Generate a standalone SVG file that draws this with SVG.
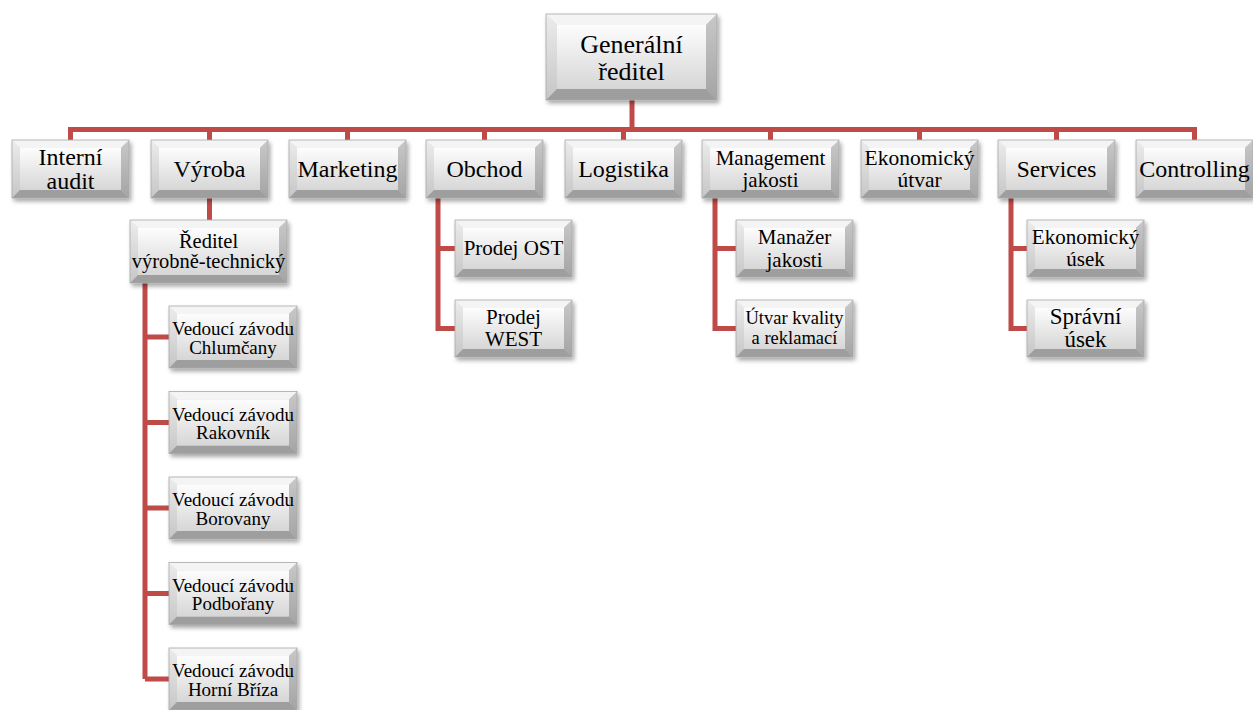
<svg xmlns="http://www.w3.org/2000/svg" xmlns:xlink="http://www.w3.org/1999/xlink" width="1253" height="710" viewBox="0 0 1253 710">
<style>
.bt{fill:#f4f4f4}
.bl{fill:url(#gl)}
.br{fill:url(#gr)}
.bb{fill:#9e9e9e}
.bf{fill:url(#gf)}
.bo{fill:none;stroke:#a8a8a8;stroke-width:0.8}
.box{filter:url(#sh)}
.t{font-family:'Liberation Serif','DejaVu Serif',serif;fill:#000;text-anchor:middle}
.con{fill:none;stroke:#BE4B48;stroke-width:5;stroke-linejoin:miter;stroke-linecap:butt}
</style>
<defs>
<linearGradient id="gf" x1="0" y1="0" x2="0" y2="1">
<stop offset="0" stop-color="#fdfdfd"/><stop offset="1" stop-color="#d6d6d6"/>
</linearGradient>
<linearGradient id="gl" x1="0" y1="0" x2="0" y2="1">
<stop offset="0" stop-color="#ececec"/><stop offset="1" stop-color="#c6c6c6"/>
</linearGradient>
<linearGradient id="gr" x1="0" y1="0" x2="0" y2="1">
<stop offset="0" stop-color="#c8c8c8"/><stop offset="1" stop-color="#a4a4a4"/>
</linearGradient>
<filter id="sh" x="-10%" y="-10%" width="125%" height="135%">
<feDropShadow dx="2" dy="3" stdDeviation="2" flood-color="#000" flood-opacity="0.35"/>
</filter>
<g id="bvA">
<polygon class="bt" points="0,0 171,0 160,11 11,11"/>
<polygon class="bl" points="0,0 11,11 11,75 0,86"/>
<polygon class="br" points="171,0 171,86 160,75 160,11"/>
<polygon class="bb" points="0,86 11,75 160,75 171,86"/>
<rect class="bf" x="11" y="11" width="149" height="64"/>
<rect class="bo" x="0" y="0" width="171" height="86"/>
</g>
<g id="bvB">
<polygon class="bt" points="0,0 117,0 109,8 8,8"/>
<polygon class="bl" points="0,0 8,8 8,50 0,58"/>
<polygon class="br" points="117,0 117,58 109,50 109,8"/>
<polygon class="bb" points="0,58 8,50 109,50 117,58"/>
<rect class="bf" x="8" y="8" width="101" height="42"/>
<rect class="bo" x="0" y="0" width="117" height="58"/>
</g>
<g id="bvC">
<polygon class="bt" points="0,0 137,0 129,8 8,8"/>
<polygon class="bl" points="0,0 8,8 8,50 0,58"/>
<polygon class="br" points="137,0 137,58 129,50 129,8"/>
<polygon class="bb" points="0,58 8,50 129,50 137,58"/>
<rect class="bf" x="8" y="8" width="121" height="42"/>
<rect class="bo" x="0" y="0" width="137" height="58"/>
</g>
<g id="bvD">
<polygon class="bt" points="0,0 157,0 149,8 8,8"/>
<polygon class="bl" points="0,0 8,8 8,55 0,63"/>
<polygon class="br" points="157,0 157,63 149,55 149,8"/>
<polygon class="bb" points="0,63 8,55 149,55 157,63"/>
<rect class="bf" x="8" y="8" width="141" height="47"/>
<rect class="bo" x="0" y="0" width="157" height="63"/>
</g>
<g id="bvE">
<polygon class="bt" points="0,0 128,0 120,8 8,8"/>
<polygon class="bl" points="0,0 8,8 8,54 0,62"/>
<polygon class="br" points="128,0 128,62 120,54 120,8"/>
<polygon class="bb" points="0,62 8,54 120,54 128,62"/>
<rect class="bf" x="8" y="8" width="112" height="46"/>
<rect class="bo" x="0" y="0" width="128" height="62"/>
</g>
<g id="bvF">
<polygon class="bt" points="0,0 117,0 109,8 8,8"/>
<polygon class="bl" points="0,0 8,8 8,49 0,57"/>
<polygon class="br" points="117,0 117,57 109,49 109,8"/>
<polygon class="bb" points="0,57 8,49 109,49 117,57"/>
<rect class="bf" x="8" y="8" width="101" height="41"/>
<rect class="bo" x="0" y="0" width="117" height="57"/>
</g>
</defs>

<g id="connectors" class="con">
<path d="M632,100V129.5"/>
<path d="M70.5,140V129.5H1194.5V140"/>
<path d="M209.5,129.5V140M347.5,129.5V140M484.5,129.5V140M623.5,129.5V140M770.5,129.5V140M919.5,129.5V140M1056.5,129.5V140"/>
<path d="M209.5,198V220"/>
<path d="M145,283V679M145,337H169M145,422.5H169M145,508H169M145,593.5H169M145,679H169"/>
<path d="M438,198V328.5H455M438,248.5H455"/>
<path d="M715,198V328.5H736M715,248.5H736"/>
<path d="M1011,198V328.5H1027M1011,248.5H1027"/>
</g>

<g id="n-generalni">
<use class="box" href="#bvA" x="546" y="14"/>
<text class="t" font-size="26"><tspan x="631.5" y="53">Generální</tspan><tspan x="631.5" y="80">ředitel</tspan></text>
</g>

<g id="n-audit">
<use class="box" href="#bvB" x="12" y="140"/>
<text class="t" font-size="24"><tspan x="70.5" y="165">Interní</tspan><tspan x="70.5" y="188.5">audit</tspan></text>
</g>
<g id="n-vyroba">
<use class="box" href="#bvB" x="151" y="140"/>
<text class="t" font-size="24" x="209.5" y="177">Výroba</text>
</g>
<g id="n-marketing">
<use class="box" href="#bvB" x="289" y="140"/>
<text class="t" font-size="24" x="347.5" y="177">Marketing</text>
</g>
<g id="n-obchod">
<use class="box" href="#bvB" x="426" y="140"/>
<text class="t" font-size="24" x="484.5" y="177">Obchod</text>
</g>
<g id="n-logistika">
<use class="box" href="#bvB" x="565" y="140"/>
<text class="t" font-size="24" x="623.5" y="177">Logistika</text>
</g>
<g id="n-management">
<use class="box" href="#bvC" x="702" y="140"/>
<text class="t" font-size="21"><tspan x="770.5" y="165">Management</tspan><tspan x="770.5" y="187">jakosti</tspan></text>
</g>
<g id="n-ekonomicky">
<use class="box" href="#bvB" x="861" y="140"/>
<text class="t" font-size="21.5"><tspan x="919.5" y="165">Ekonomický</tspan><tspan x="919.5" y="187">útvar</tspan></text>
</g>
<g id="n-services">
<use class="box" href="#bvB" x="998" y="140"/>
<text class="t" font-size="23.5" x="1056.5" y="177">Services</text>
</g>
<g id="n-controlling">
<use class="box" href="#bvB" x="1136" y="140"/>
<text class="t" font-size="24" x="1194.5" y="177">Controlling</text>
</g>

<g id="n-reditel">
<use class="box" href="#bvD" x="130" y="220"/>
<text class="t" font-size="20.5"><tspan x="208.5" y="248">Ředitel</tspan><tspan x="208.5" y="268">výrobně-technický</tspan></text>
</g>
<g id="n-chlumcany">
<use class="box" href="#bvE" x="169" y="306"/>
<text class="t" font-size="19"><tspan x="233" y="335">Vedoucí závodu</tspan><tspan x="233" y="353.5">Chlumčany</tspan></text>
</g>
<g id="n-rakovnik">
<use class="box" href="#bvE" x="169" y="391.5"/>
<text class="t" font-size="19"><tspan x="233" y="420.5">Vedoucí závodu</tspan><tspan x="233" y="439">Rakovník</tspan></text>
</g>
<g id="n-borovany">
<use class="box" href="#bvE" x="169" y="477"/>
<text class="t" font-size="19"><tspan x="233" y="506">Vedoucí závodu</tspan><tspan x="233" y="524.5">Borovany</tspan></text>
</g>
<g id="n-podborany">
<use class="box" href="#bvE" x="169" y="562.5"/>
<text class="t" font-size="19"><tspan x="233" y="591.5">Vedoucí závodu</tspan><tspan x="233" y="610">Podbořany</tspan></text>
</g>
<g id="n-hornibriza">
<use class="box" href="#bvE" x="169" y="648"/>
<text class="t" font-size="19"><tspan x="233" y="677">Vedoucí závodu</tspan><tspan x="233" y="695.5">Horní Bříza</tspan></text>
</g>

<g id="n-prodej-ost">
<use class="box" href="#bvF" x="455" y="220"/>
<text class="t" font-size="21" x="513.5" y="255">Prodej OST</text>
</g>
<g id="n-prodej-west">
<use class="box" href="#bvF" x="455" y="300"/>
<text class="t" font-size="21"><tspan x="513.5" y="324">Prodej</tspan><tspan x="513.5" y="346">WEST</tspan></text>
</g>
<g id="n-manazer">
<use class="box" href="#bvF" x="736" y="220"/>
<text class="t" font-size="21"><tspan x="794.5" y="244">Manažer</tspan><tspan x="794.5" y="266.5">jakosti</tspan></text>
</g>
<g id="n-utvar">
<use class="box" href="#bvF" x="736" y="300"/>
<text class="t" font-size="18.5"><tspan x="794.5" y="324">Útvar kvality</tspan><tspan x="794.5" y="344">a reklamací</tspan></text>
</g>
<g id="n-ekon-usek">
<use class="box" href="#bvF" x="1027" y="220"/>
<text class="t" font-size="21"><tspan x="1085.5" y="244">Ekonomický</tspan><tspan x="1085.5" y="266">úsek</tspan></text>
</g>
<g id="n-spravni">
<use class="box" href="#bvF" x="1027" y="300"/>
<text class="t" font-size="23"><tspan x="1085.5" y="324">Správní</tspan><tspan x="1085.5" y="346.5">úsek</tspan></text>
</g>
</svg>
